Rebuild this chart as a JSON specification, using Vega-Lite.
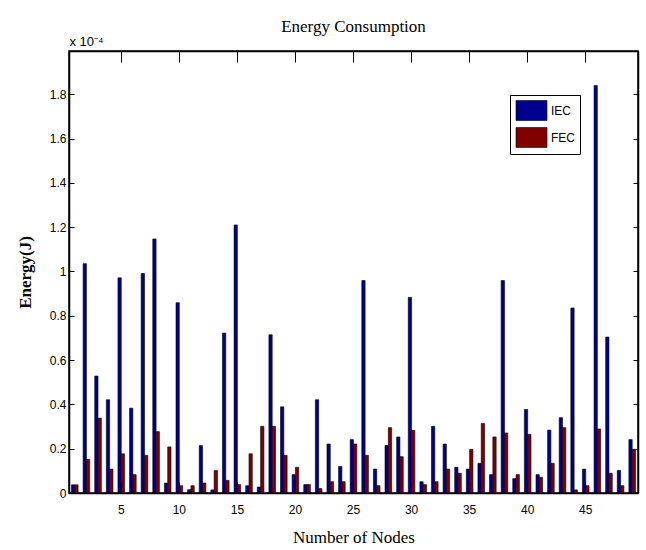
{
  "$schema": "https://vega.github.io/schema/vega-lite/v6.json",
  "width": 569,
  "height": 442,
  "autosize": {"type": "none"},
  "padding": {"left": 69, "top": 51, "right": 8, "bottom": 57},
  "background": "white",
  "title": {
    "text": "Energy Consumption",
    "font": "Liberation Serif",
    "fontSize": 17,
    "fontWeight": "normal",
    "color": "black",
    "anchor": "middle",
    "offset": 0
  },
  "config": {
    "view": {"stroke": "black", "strokeWidth": 1.5},
    "axis": {
      "grid": false,
      "domainColor": "black",
      "domainWidth": 1.5,
      "tickColor": "black",
      "labelColor": "black",
      "titleColor": "black",
      "labelFont": "Liberation Sans Narrow, Arial Narrow, Liberation Sans",
      "labelFontSize": 12
    }
  },
  "data": {
    "values": [
      {"node": 1, "series": "IEC", "energy": 0.037e-4}, {"node": 1, "series": "FEC", "energy": 0.037e-4},
      {"node": 2, "series": "IEC", "energy": 1.035e-4}, {"node": 2, "series": "FEC", "energy": 0.152e-4},
      {"node": 3, "series": "IEC", "energy": 0.528e-4}, {"node": 3, "series": "FEC", "energy": 0.338e-4},
      {"node": 4, "series": "IEC", "energy": 0.421e-4}, {"node": 4, "series": "FEC", "energy": 0.108e-4},
      {"node": 5, "series": "IEC", "energy": 0.971e-4}, {"node": 5, "series": "FEC", "energy": 0.177e-4},
      {"node": 6, "series": "IEC", "energy": 0.383e-4}, {"node": 6, "series": "FEC", "energy": 0.083e-4},
      {"node": 7, "series": "IEC", "energy": 0.991e-4}, {"node": 7, "series": "FEC", "energy": 0.170e-4},
      {"node": 8, "series": "IEC", "energy": 1.147e-4}, {"node": 8, "series": "FEC", "energy": 0.277e-4},
      {"node": 9, "series": "IEC", "energy": 0.045e-4}, {"node": 9, "series": "FEC", "energy": 0.208e-4},
      {"node": 10, "series": "IEC", "energy": 0.859e-4}, {"node": 10, "series": "FEC", "energy": 0.033e-4},
      {"node": 11, "series": "IEC", "energy": 0.015e-4}, {"node": 11, "series": "FEC", "energy": 0.033e-4},
      {"node": 12, "series": "IEC", "energy": 0.214e-4}, {"node": 12, "series": "FEC", "energy": 0.045e-4},
      {"node": 13, "series": "IEC", "energy": 0.014e-4}, {"node": 13, "series": "FEC", "energy": 0.101e-4},
      {"node": 14, "series": "IEC", "energy": 0.722e-4}, {"node": 14, "series": "FEC", "energy": 0.057e-4},
      {"node": 15, "series": "IEC", "energy": 1.21e-4}, {"node": 15, "series": "FEC", "energy": 0.038e-4},
      {"node": 16, "series": "IEC", "energy": 0.033e-4}, {"node": 16, "series": "FEC", "energy": 0.177e-4},
      {"node": 17, "series": "IEC", "energy": 0.027e-4}, {"node": 17, "series": "FEC", "energy": 0.301e-4},
      {"node": 18, "series": "IEC", "energy": 0.714e-4}, {"node": 18, "series": "FEC", "energy": 0.301e-4},
      {"node": 19, "series": "IEC", "energy": 0.389e-4}, {"node": 19, "series": "FEC", "energy": 0.170e-4},
      {"node": 20, "series": "IEC", "energy": 0.083e-4}, {"node": 20, "series": "FEC", "energy": 0.116e-4},
      {"node": 21, "series": "IEC", "energy": 0.038e-4}, {"node": 21, "series": "FEC", "energy": 0.038e-4},
      {"node": 22, "series": "IEC", "energy": 0.421e-4}, {"node": 22, "series": "FEC", "energy": 0.020e-4},
      {"node": 23, "series": "IEC", "energy": 0.221e-4}, {"node": 23, "series": "FEC", "energy": 0.051e-4},
      {"node": 24, "series": "IEC", "energy": 0.120e-4}, {"node": 24, "series": "FEC", "energy": 0.051e-4},
      {"node": 25, "series": "IEC", "energy": 0.241e-4}, {"node": 25, "series": "FEC", "energy": 0.221e-4},
      {"node": 26, "series": "IEC", "energy": 0.959e-4}, {"node": 26, "series": "FEC", "energy": 0.170e-4},
      {"node": 27, "series": "IEC", "energy": 0.108e-4}, {"node": 27, "series": "FEC", "energy": 0.033e-4},
      {"node": 28, "series": "IEC", "energy": 0.215e-4}, {"node": 28, "series": "FEC", "energy": 0.295e-4},
      {"node": 29, "series": "IEC", "energy": 0.253e-4}, {"node": 29, "series": "FEC", "energy": 0.164e-4},
      {"node": 30, "series": "IEC", "energy": 0.883e-4}, {"node": 30, "series": "FEC", "energy": 0.283e-4},
      {"node": 31, "series": "IEC", "energy": 0.051e-4}, {"node": 31, "series": "FEC", "energy": 0.038e-4},
      {"node": 32, "series": "IEC", "energy": 0.301e-4}, {"node": 32, "series": "FEC", "energy": 0.051e-4},
      {"node": 33, "series": "IEC", "energy": 0.221e-4}, {"node": 33, "series": "FEC", "energy": 0.108e-4},
      {"node": 34, "series": "IEC", "energy": 0.116e-4}, {"node": 34, "series": "FEC", "energy": 0.089e-4},
      {"node": 35, "series": "IEC", "energy": 0.108e-4}, {"node": 35, "series": "FEC", "energy": 0.197e-4},
      {"node": 36, "series": "IEC", "energy": 0.134e-4}, {"node": 36, "series": "FEC", "energy": 0.314e-4},
      {"node": 37, "series": "IEC", "energy": 0.083e-4}, {"node": 37, "series": "FEC", "energy": 0.253e-4},
      {"node": 38, "series": "IEC", "energy": 0.959e-4}, {"node": 38, "series": "FEC", "energy": 0.271e-4},
      {"node": 39, "series": "IEC", "energy": 0.065e-4}, {"node": 39, "series": "FEC", "energy": 0.083e-4},
      {"node": 40, "series": "IEC", "energy": 0.377e-4}, {"node": 40, "series": "FEC", "energy": 0.265e-4},
      {"node": 41, "series": "IEC", "energy": 0.083e-4}, {"node": 41, "series": "FEC", "energy": 0.071e-4},
      {"node": 42, "series": "IEC", "energy": 0.284e-4}, {"node": 42, "series": "FEC", "energy": 0.134e-4},
      {"node": 43, "series": "IEC", "energy": 0.340e-4}, {"node": 43, "series": "FEC", "energy": 0.295e-4},
      {"node": 44, "series": "IEC", "energy": 0.835e-4}, {"node": 44, "series": "FEC", "energy": 0.014e-4},
      {"node": 45, "series": "IEC", "energy": 0.108e-4}, {"node": 45, "series": "FEC", "energy": 0.033e-4},
      {"node": 46, "series": "IEC", "energy": 1.839e-4}, {"node": 46, "series": "FEC", "energy": 0.289e-4},
      {"node": 47, "series": "IEC", "energy": 0.704e-4}, {"node": 47, "series": "FEC", "energy": 0.089e-4},
      {"node": 48, "series": "IEC", "energy": 0.102e-4}, {"node": 48, "series": "FEC", "energy": 0.033e-4},
      {"node": 49, "series": "IEC", "energy": 0.241e-4}, {"node": 49, "series": "FEC", "energy": 0.197e-4}
    ]
  },
  "layer": [
    {
      "mark": {"type": "bar", "stroke": "black", "strokeWidth": 0.6},
      "encoding": {
        "x": {
          "field": "node",
          "type": "ordinal",
          "sort": "ascending",
          "scale": {"paddingInner": 0.43, "paddingOuter": 0.215},
          "axis": {
            "orient": "bottom",
            "values": [5, 10, 15, 20, 25, 30, 35, 40, 45],
            "labelAngle": 0,
            "tickSize": -11,
            "labelPadding": 22,
            "domain": true,
            "title": "Number of Nodes",
            "titleFont": "Liberation Serif",
            "titleFontSize": 17,
            "titleFontWeight": "normal",
            "titlePadding": 14
          }
        },
        "xOffset": {"field": "series", "type": "nominal", "sort": ["IEC", "FEC"], "scale": {"paddingInner": 0, "paddingOuter": 0}},
        "y": {
          "field": "energy",
          "type": "quantitative",
          "scale": {"domain": [0, 0.0001995], "nice": false, "zero": true},
          "axis": {
            "orient": "left",
            "values": [0, 0.00002, 0.00004, 0.00006, 0.00008, 0.0001, 0.00012, 0.00014, 0.00016, 0.00018],
            "labelExpr": "format(datum.value * 10000, '.1~f')",
            "tickSize": -5,
            "labelPadding": 8,
            "title": "Energy(J)",
            "titleFont": "Liberation Serif",
            "titleFontSize": 17,
            "titleFontWeight": "bold",
            "titlePadding": 15
          }
        },
        "color": {
          "field": "series",
          "type": "nominal",
          "sort": ["IEC", "FEC"],
          "scale": {"domain": ["IEC", "FEC"], "range": ["#00008F", "#800000"]},
          "legend": {
            "title": null,
            "orient": "none",
            "legendX": 441,
            "legendY": 44,
            "fillColor": "white",
            "strokeColor": "black",
            "padding": 5,
            "symbolType": "M-1.55,-1L1.55,-1L1.55,1L-1.55,1Z",
            "symbolSize": 400,
            "symbolStrokeColor": "black",
            "symbolStrokeWidth": 0.6,
            "symbolOffset": 6,
            "labelOffset": 9,
            "labelFont": "Liberation Sans Narrow, Arial Narrow, Liberation Sans",
            "labelFontSize": 12,
            "labelColor": "black",
            "rowPadding": 4
          }
        }
      }
    },
    {
      "mark": {"type": "bar", "opacity": 0},
      "encoding": {
        "x": {
          "field": "node",
          "type": "ordinal",
          "sort": "ascending",
          "axis": {
            "orient": "top",
            "values": [5, 10, 15, 20, 25, 30, 35, 40, 45],
            "labels": false,
            "tickSize": -11,
            "title": "x 10⁻⁴",
            "titleFont": "Liberation Sans Narrow, Arial Narrow, Liberation Sans",
            "titleFontSize": 13,
            "titleFontWeight": "normal",
            "titleAnchor": "start",
            "titleAlign": "left",
            "titlePadding": 2
          }
        },
        "y": {
          "field": "energy",
          "type": "quantitative",
          "stack": null,
          "axis": {
            "orient": "right",
            "values": [0, 0.00002, 0.00004, 0.00006, 0.00008, 0.0001, 0.00012, 0.00014, 0.00016, 0.00018],
            "labels": false,
            "tickSize": -5,
            "title": null
          }
        }
      }
    }
  ],
  "resolve": {"axis": {"x": "independent", "y": "independent"}}
}
